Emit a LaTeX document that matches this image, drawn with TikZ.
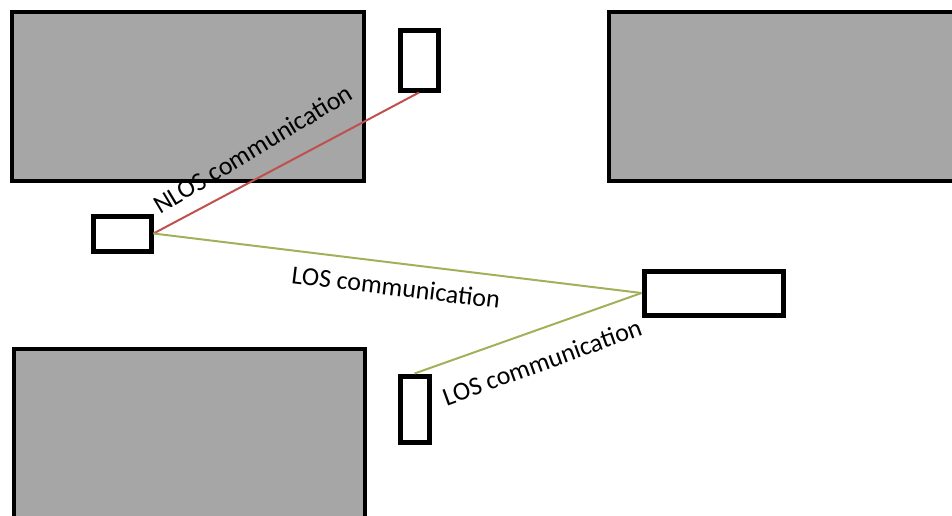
\documentclass[tikz,border=0pt]{standalone}
\usepackage{fontspec}
\setmainfont{Carlito}
\definecolor{bldgrey}{HTML}{A6A6A6}
\definecolor{nloscol}{HTML}{C0504D}
\definecolor{loscol}{HTML}{A3B05A}
\tikzset{
  building/.style={draw=black, fill=bldgrey, line width=4pt},
  vehicle/.style={draw=black, fill=white, line width=5pt, inner sep=0pt},
  nlos/.style={draw=nloscol, line width=2pt},
  los/.style={draw=loscol, line width=2pt},
  linklabel/.style={font=\fontsize{26}{30}\selectfont, inner sep=1pt}
}
\begin{document}
\begin{tikzpicture}[x=1pt, y=-1pt]
  \useasboundingbox (0,0) rectangle (952,515);
  % buildings
  \draw[building] (12,12) rectangle (364,181);
  \draw[building] (609,12) rectangle (960,181);
  \draw[building] (14,349) rectangle (365,530);
  % vehicles
  \node[vehicle, minimum width=58pt, minimum height=35pt] (carL) at (122,233.5) {};
  \node[vehicle, minimum width=38pt, minimum height=60pt] (carT) at (419,60) {};
  \node[vehicle, minimum width=139pt, minimum height=44pt] (carR) at (713.5,293) {};
  \node[vehicle, minimum width=29pt, minimum height=66pt] (carB) at (414.5,409) {};
  % links
  \draw[nlos] (carL.east) -- (carT.south);
  \draw[los] (carL.east) -- (carR.west);
  \draw[los] (carR.west) -- (carB.north);
  % labels
  \node[linklabel, rotate=31] (lblN) at (253,149) {NLOS communication};
  \node[linklabel, rotate=-7] (lblL1) at (396,287) {LOS communication};
  \node[linklabel, rotate=20] (lblL2) at (542,362) {LOS communication};
\end{tikzpicture}
\end{document}
